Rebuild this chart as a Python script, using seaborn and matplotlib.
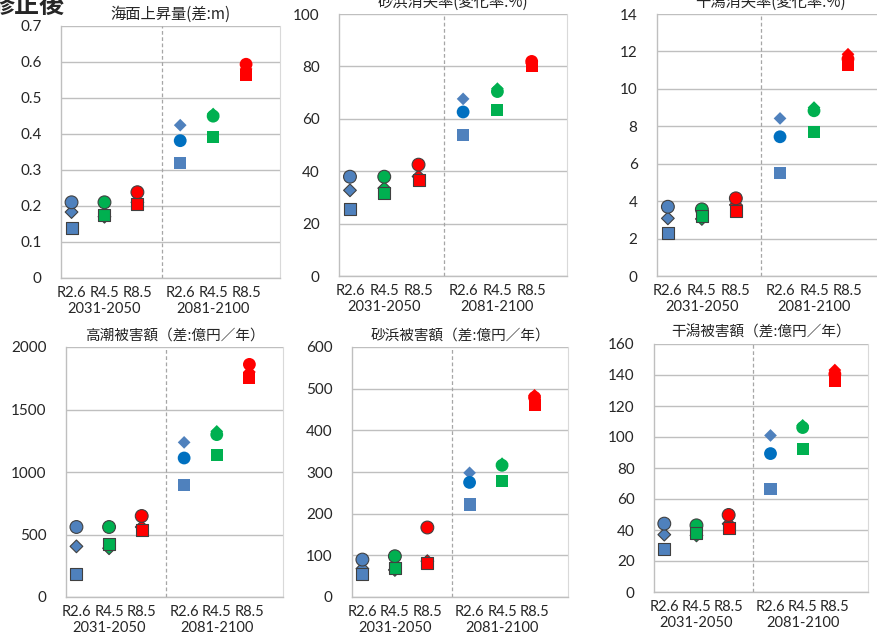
import numpy as np
import pandas as pd
import matplotlib
matplotlib.use("Agg")
import matplotlib.pyplot as plt
import seaborn as sns

# ============================================================
# Data
# ============================================================

scenarios = ["R2.6", "R4.5", "R8.5", "R2.6", "R4.5", "R8.5"]
periods = ["2031-2050", "2031-2050", "2031-2050", "2081-2100", "2081-2100", "2081-2100"]
group_labels = ["2031-2050", "2081-2100"]

titles = ["海面上昇量(差:m)", "砂浜消失率(変化率:%)", "干潟消失率(変化率:%)",
          "高潮被害額（差:億円／年）", "砂浜被害額（差:億円／年）", "干潟被害額（差:億円／年）"]

sea_circle = [0.21, 0.21, 0.238, 0.381, 0.449, 0.593]
sea_diamond = [0.183, 0.17, 0.21, 0.424, 0.455, 0.58]
sea_square = [0.14, 0.175, 0.205, 0.318, 0.39, 0.562]

beach_circle = [37.9, 37.9, 42.5, 62.6, 70.4, 81.9]
beach_diamond = [32.7, 33.5, 38.0, 67.6, 71.5, 81.0]
beach_square = [25.6, 31.7, 36.6, 53.9, 63.4, 80.2]

flat_circle = [3.70, 3.56, 4.15, 7.44, 8.83, 11.6]
flat_diamond = [3.08, 3.05, 3.8, 8.42, 9.0, 11.85]
flat_square = [2.32, 3.2, 3.47, 5.52, 7.69, 11.3]

surge_circle = [560, 560, 648, 1112, 1299, 1861]
surge_diamond = [405, 390, 560, 1237, 1325, 1800]
surge_square = [187, 427, 539, 893, 1139, 1752]

beachdmg_circle = [89.8, 97.8, 166.8, 275, 316, 479]
beachdmg_diamond = [68, 65, 86, 298, 320, 484]
beachdmg_square = [54.5, 70.6, 82.6, 222, 279, 461]

flatdmg_circle = [44.1, 43.0, 49.7, 89.3, 106.1, 140.6]
flatdmg_diamond = [37.0, 36.5, 44.0, 101.0, 107.5, 143.2]
flatdmg_square = [27.6, 38.3, 41.5, 66.3, 92.1, 136.3]

y_ticks = [np.arange(0, 0.71, 0.1), np.arange(0, 101, 20), np.arange(0, 15, 2),
           np.arange(0, 2001, 500), np.arange(0, 601, 100), np.arange(0, 161, 20)]

panel_values = [
    (sea_circle, sea_diamond, sea_square),
    (beach_circle, beach_diamond, beach_square),
    (flat_circle, flat_diamond, flat_square),
    (surge_circle, surge_diamond, surge_square),
    (beachdmg_circle, beachdmg_diamond, beachdmg_square),
    (flatdmg_circle, flatdmg_diamond, flatdmg_square),
]

# ============================================================
# Styling / layout
# ============================================================

sns.set_style("white")
plt.rcParams["font.family"] = ["Noto Sans CJK JP", "DejaVu Sans"]

W, H = 878, 633
fig = plt.figure(figsize=(W / 100, H / 100), dpi=100)

# axes boxes in pixels: left, right, top, bottom
boxes = [(61, 280, 25.7, 278), (339, 567, 14, 276), (657, 883, 14, 276),
         (66, 283, 347, 597), (352, 568, 347, 597), (654, 868, 344, 592)]
title_sizes = [11, 11, 11, 10.5, 10.5, 10.5]

x_pos = [0, 1, 2, 3.3, 4.3, 5.3]
group_pos = [1, 4.3]
divider = 2.75

scen_color = {"R2.6": "#4F81BD", "R4.5": "#00B050", "R8.5": "#FF0000"}
grid_c = "#BFBFBF"
tick_font = ["Lato", "DejaVu Sans"]


def y_fmt(v):
    return f"{v:g}"


for i, (box, vals) in enumerate(zip(boxes, panel_values)):
    l, r, t, b = box
    ax = fig.add_axes([l / W, 1 - b / H, (r - l) / W, (b - t) / H])

    circle_v, diamond_v, square_v = vals
    rows = []
    for k in range(6):
        c = scen_color[scenarios[k]]
        circ_c = "#0070C0" if (scenarios[k] == "R2.6" and periods[k] == "2081-2100") else c
        rows.append(dict(x=x_pos[k], period=periods[k], shape="D", y=diamond_v[k], color=c))
        rows.append(dict(x=x_pos[k], period=periods[k], shape="o", y=circle_v[k], color=circ_c))
        rows.append(dict(x=x_pos[k], period=periods[k], shape="s", y=square_v[k], color=c))
    df = pd.DataFrame(rows)

    sizes = {"D": 42, "o": 85, "s": 75}
    zorders = {"D": 3, "o": 4, "s": 5}
    for per, edge, lw in [("2031-2050", "#404040", 0.8), ("2081-2100", "none", 0)]:
        for shape in ["D", "o", "s"]:
            sub = df[(df["period"] == per) & (df["shape"] == shape)]
            sns.scatterplot(
                data=sub, x="x", y="y", hue="color",
                palette={c: c for c in sub["color"].unique()},
                marker=shape, s=sizes[shape], edgecolor=edge, linewidth=lw,
                legend=False, ax=ax, zorder=zorders[shape]
            )

    ticks = y_ticks[i]
    ax.set_ylim(ticks[0], ticks[-1])
    ax.set_yticks(ticks)
    ax.set_yticklabels([y_fmt(round(v, 2)) for v in ticks], fontsize=11, family=tick_font)
    ax.set_xlim(-0.32, 6.33)
    ax.set_xticks(x_pos)
    ax.set_xticklabels(scenarios, fontsize=10.5, family=tick_font)
    ax.tick_params(axis="both", length=0)
    ax.tick_params(axis="y", pad=14)
    ax.tick_params(axis="x", pad=6)
    ax.set_xlabel("")
    ax.set_ylabel("")

    for gx, glabel in zip(group_pos, group_labels):
        ax.annotate(glabel, xy=(gx, 0), xycoords=("data", "axes fraction"),
                    xytext=(0, -17), textcoords="offset points",
                    ha="center", va="top", fontsize=10.5, family=tick_font,
                    annotation_clip=False)

    ax.grid(axis="y", color=grid_c, linewidth=1.0)
    ax.set_axisbelow(True)
    ax.axvline(divider, color="#A6A6A6", linestyle=(0, (3, 2)), linewidth=0.9, zorder=1)

    for side in ["left", "bottom"]:
        ax.spines[side].set_color(grid_c)
        ax.spines[side].set_linewidth(1.0)
    ax.spines["right"].set_color("#D9D9D9")
    ax.spines["top"].set_visible(False)

    ax.set_title(titles[i], fontsize=title_sizes[i], pad=5)

fig.text(-10 / W, 1 - 13 / H, "修正後", fontsize=18, fontweight="bold",
         ha="left", va="baseline")

plt.savefig("out.png", dpi=100)
